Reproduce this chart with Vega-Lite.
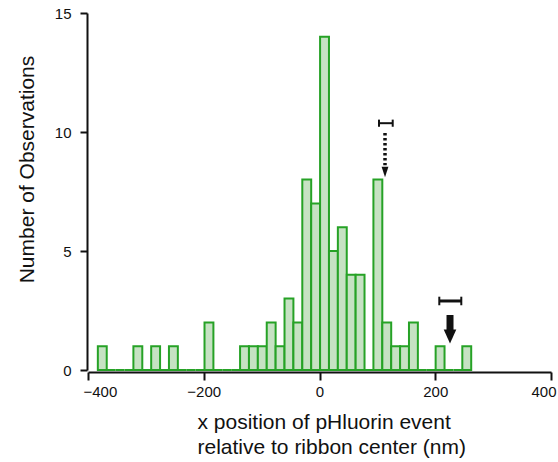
{
  "$schema": "https://vega.github.io/schema/vega-lite/v6.json",
  "width": 463,
  "height": 357,
  "autosize": "none",
  "padding": {"left": 88, "top": 13, "right": 7, "bottom": 92},
  "background": "white",
  "config": {
    "view": {"stroke": null},
    "font": "Liberation Sans",
    "axis": {
      "domainColor": "#111111",
      "tickColor": "#111111",
      "labelColor": "#111111",
      "titleColor": "#111111",
      "domainWidth": 2,
      "tickWidth": 2,
      "grid": false,
      "labelFont": "Liberation Sans",
      "titleFont": "Liberation Sans",
      "labelFontSize": 15,
      "titleFontSize": 21,
      "titleFontWeight": "normal"
    }
  },
  "datasets": {
    "bins": [
      {"start": -383.0, "end": -367.64, "count": 1},
      {"start": -367.64, "end": -352.28, "count": 0},
      {"start": -352.28, "end": -336.92, "count": 0},
      {"start": -336.92, "end": -321.56, "count": 0},
      {"start": -321.56, "end": -306.2, "count": 1},
      {"start": -306.2, "end": -290.84, "count": 0},
      {"start": -290.84, "end": -275.48, "count": 1},
      {"start": -275.48, "end": -260.12, "count": 0},
      {"start": -260.12, "end": -244.76, "count": 1},
      {"start": -244.76, "end": -229.4, "count": 0},
      {"start": -229.4, "end": -214.04, "count": 0},
      {"start": -214.04, "end": -198.68, "count": 0},
      {"start": -198.68, "end": -183.32, "count": 2},
      {"start": -183.32, "end": -167.96, "count": 0},
      {"start": -167.96, "end": -152.6, "count": 0},
      {"start": -152.6, "end": -137.24, "count": 0},
      {"start": -137.24, "end": -121.88, "count": 1},
      {"start": -121.88, "end": -106.52, "count": 1},
      {"start": -106.52, "end": -91.16, "count": 1},
      {"start": -91.16, "end": -75.8, "count": 2},
      {"start": -75.8, "end": -60.44, "count": 1},
      {"start": -60.44, "end": -45.08, "count": 3},
      {"start": -45.08, "end": -29.72, "count": 2},
      {"start": -29.72, "end": -14.36, "count": 8},
      {"start": -14.36, "end": 1.0, "count": 7},
      {"start": 1.0, "end": 16.36, "count": 14},
      {"start": 16.36, "end": 31.72, "count": 5},
      {"start": 31.72, "end": 47.08, "count": 6},
      {"start": 47.08, "end": 62.44, "count": 4},
      {"start": 62.44, "end": 77.8, "count": 4},
      {"start": 77.8, "end": 93.16, "count": 0},
      {"start": 93.16, "end": 108.52, "count": 8},
      {"start": 108.52, "end": 123.88, "count": 2},
      {"start": 123.88, "end": 139.24, "count": 1},
      {"start": 139.24, "end": 154.6, "count": 1},
      {"start": 154.6, "end": 169.96, "count": 2},
      {"start": 169.96, "end": 185.32, "count": 0},
      {"start": 185.32, "end": 200.68, "count": 0},
      {"start": 200.68, "end": 216.04, "count": 1},
      {"start": 216.04, "end": 231.4, "count": 0},
      {"start": 231.4, "end": 246.76, "count": 0},
      {"start": 246.76, "end": 262.12, "count": 1}
    ]
  },
  "layer": [
    {
      "data": {"name": "bins"},
      "mark": {"type": "rect", "fill": "#c6e2c3", "stroke": "#26a226", "strokeWidth": 2, "fillOpacity": 1},
      "encoding": {
        "x": {
          "field": "start", "type": "quantitative",
          "scale": {"domain": [-400, 400], "nice": false, "zero": false},
          "axis": {
            "values": [-400, -200, 0, 200, 400],
            "offset": 2, "tickSize": 8, "labelPadding": 4,
            "labelFlush": true, "labelFlushOffset": 5,
            "titleAlign": "left", "titleBaseline": "alphabetic",
            "titleX": 109, "titleY": 56, "titleLineHeight": 25, "titleAngle": 0
          },
          "title": ["x position of pHluorin event", "relative to ribbon center (nm)"]
        },
        "x2": {"field": "end"},
        "y": {
          "field": "count", "type": "quantitative",
          "scale": {"domain": [0, 15], "nice": false},
          "axis": {
            "values": [0, 5, 10, 15],
            "offset": 1, "tickSize": 7, "labelPadding": 9,
            "titleAlign": "center", "titleBaseline": "alphabetic",
            "titleAngle": -90, "titleX": -54, "titleY": 156
          },
          "title": "Number of Observations"
        },
        "y2": {"datum": 0}
      }
    },
    {
      "data": {"values": [{"x": 113.2, "y": 9.96, "y2": 8.6}]},
      "mark": {"type": "rule", "color": "#111111", "strokeWidth": 3.5, "strokeDash": [2.5, 2.5]},
      "encoding": {
        "x": {"field": "x", "type": "quantitative"},
        "y": {"field": "y", "type": "quantitative"},
        "y2": {"field": "y2"}
      }
    },
    {
      "data": {"values": [{"x": 113.2, "y": 8.32}]},
      "mark": {"type": "point", "shape": "M-0.65,-1L0.65,-1L0,1Z", "size": 110, "filled": true, "color": "#111111", "opacity": 1},
      "encoding": {
        "x": {"field": "x", "type": "quantitative"},
        "y": {"field": "y", "type": "quantitative"}
      }
    },
    {
      "data": {"values": [{"x": 225.5, "y": 2.31, "y2": 1.6}]},
      "mark": {"type": "rule", "color": "#111111", "strokeWidth": 7},
      "encoding": {
        "x": {"field": "x", "type": "quantitative"},
        "y": {"field": "y", "type": "quantitative"},
        "y2": {"field": "y2"}
      }
    },
    {
      "data": {"values": [{"x": 225.5, "y": 1.41}]},
      "mark": {"type": "point", "shape": "M-0.9,-1L0.9,-1L0,1Z", "size": 196, "filled": true, "color": "#111111", "opacity": 1},
      "encoding": {
        "x": {"field": "x", "type": "quantitative"},
        "y": {"field": "y", "type": "quantitative"}
      }
    },
    {
      "data": {"values": [{"x": 102.8, "x2": 126.5, "y": 10.37}]},
      "mark": {"type": "rule", "color": "#111111", "strokeWidth": 2},
      "encoding": {
        "x": {"field": "x", "type": "quantitative"},
        "x2": {"field": "x2"},
        "y": {"field": "y", "type": "quantitative"}
      }
    },
    {
      "data": {"values": [{"x": 102.8, "y": 10.52, "y2": 10.22}, {"x": 126.5, "y": 10.52, "y2": 10.22}]},
      "mark": {"type": "rule", "color": "#111111", "strokeWidth": 2},
      "encoding": {
        "x": {"field": "x", "type": "quantitative"},
        "y": {"field": "y", "type": "quantitative"},
        "y2": {"field": "y2"}
      }
    },
    {
      "data": {"values": [{"x": 207.0, "x2": 245.0, "y": 2.9}]},
      "mark": {"type": "rule", "color": "#111111", "strokeWidth": 3},
      "encoding": {
        "x": {"field": "x", "type": "quantitative"},
        "x2": {"field": "x2"},
        "y": {"field": "y", "type": "quantitative"}
      }
    },
    {
      "data": {"values": [{"x": 207.0, "y": 3.08, "y2": 2.72}, {"x": 245.0, "y": 3.08, "y2": 2.72}]},
      "mark": {"type": "rule", "color": "#111111", "strokeWidth": 2},
      "encoding": {
        "x": {"field": "x", "type": "quantitative"},
        "y": {"field": "y", "type": "quantitative"},
        "y2": {"field": "y2"}
      }
    }
  ]
}
